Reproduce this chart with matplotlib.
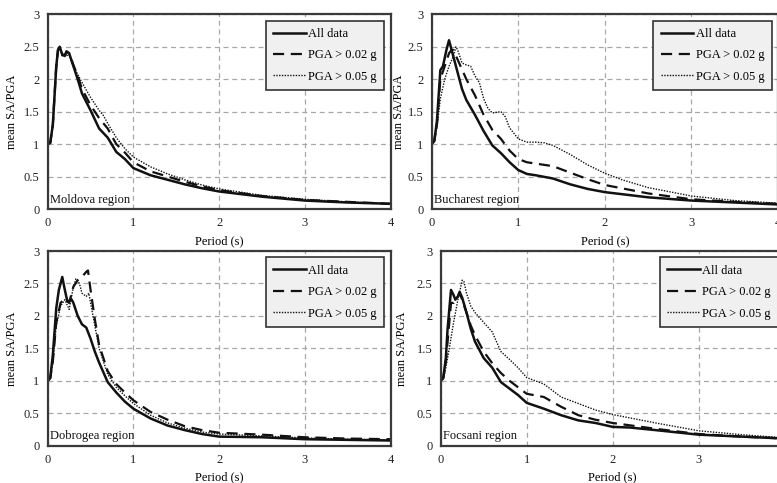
import matplotlib
matplotlib.use("Agg")
import matplotlib.pyplot as plt

plt.rcParams["font.family"] = ["Liberation Serif", "DejaVu Serif"]
plt.rcParams["font.size"] = 9

# ---- data (period in s, mean SA/PGA) ----
# Moldova region
mol_all_t = [0, 0.03, 0.06, 0.1, 0.12, 0.14, 0.17, 0.2, 0.22, 0.25, 0.3, 0.35, 0.4, 0.5, 0.6, 0.7, 0.8, 0.9, 1.0, 1.2, 1.4, 1.6, 1.8, 2.0, 2.5, 3.0, 3.5, 4.0]
mol_all_v = [1.0, 1.02, 1.3, 2.2, 2.45, 2.5, 2.38, 2.37, 2.43, 2.4, 2.2, 2.0, 1.78, 1.52, 1.24, 1.1, 0.88, 0.77, 0.63, 0.52, 0.45, 0.38, 0.32, 0.27, 0.19, 0.13, 0.1, 0.08]
mol_02_t = [0, 0.03, 0.06, 0.1, 0.12, 0.14, 0.17, 0.2, 0.22, 0.25, 0.3, 0.35, 0.4, 0.5, 0.6, 0.7, 0.8, 0.9, 1.0, 1.2, 1.4, 1.6, 1.8, 2.0, 2.5, 3.0, 3.5, 4.0]
mol_02_v = [1.0, 1.02, 1.3, 2.2, 2.45, 2.49, 2.37, 2.36, 2.42, 2.4, 2.22, 2.05, 1.85, 1.6, 1.4, 1.24, 1.0, 0.87, 0.72, 0.58, 0.5, 0.42, 0.35, 0.29, 0.2, 0.14, 0.11, 0.08]
mol_05_t = [0, 0.03, 0.06, 0.1, 0.12, 0.14, 0.17, 0.2, 0.25, 0.3, 0.4, 0.5, 0.6, 0.65, 0.7, 0.8, 0.9, 1.0, 1.2, 1.4, 1.6, 1.8, 2.0, 2.5, 3.0, 3.5, 4.0]
mol_05_v = [1.0, 1.02, 1.28, 2.18, 2.43, 2.48, 2.36, 2.35, 2.38, 2.2, 1.95, 1.72, 1.52, 1.44, 1.32, 1.1, 0.93, 0.8, 0.65, 0.54, 0.45, 0.37, 0.31, 0.21, 0.15, 0.11, 0.08]

# Bucharest region
buc_all_t = [0, 0.03, 0.06, 0.1, 0.13, 0.17, 0.2, 0.25, 0.3, 0.35, 0.4, 0.5, 0.6, 0.7, 0.8, 0.9, 1.0, 1.1, 1.2, 1.4, 1.6, 1.8, 2.0, 2.5, 3.0, 3.5, 4.0]
buc_all_v = [1.0, 1.05, 1.35, 2.14, 2.2, 2.45, 2.6, 2.35, 2.1, 1.85, 1.68, 1.45, 1.2, 0.98, 0.86, 0.72, 0.6, 0.54, 0.52, 0.47, 0.38, 0.31, 0.26, 0.18, 0.13, 0.1, 0.07]
buc_02_t = [0, 0.03, 0.06, 0.1, 0.15, 0.2, 0.23, 0.25, 0.3, 0.35, 0.4, 0.5, 0.6, 0.7, 0.8, 0.9, 1.0, 1.1, 1.2, 1.4, 1.6, 1.8, 2.0, 2.5, 3.0, 3.5, 4.0]
buc_02_v = [1.0, 1.05, 1.3, 2.0, 2.2, 2.4, 2.45, 2.45, 2.3, 2.15, 2.0, 1.75, 1.45, 1.22, 1.08, 0.9, 0.77, 0.72, 0.7, 0.66, 0.56, 0.46, 0.37, 0.24, 0.15, 0.11, 0.08]
buc_05_t = [0, 0.03, 0.06, 0.1, 0.15, 0.2, 0.25, 0.28, 0.3, 0.35, 0.4, 0.45, 0.5, 0.55, 0.6, 0.65, 0.7, 0.8, 0.85, 0.9, 1.0, 1.1, 1.2, 1.3, 1.4, 1.6, 1.8, 2.0, 2.2, 2.5, 3.0, 3.5, 4.0]
buc_05_v = [1.0, 1.04, 1.25, 1.7, 2.0, 2.2, 2.35, 2.5, 2.45, 2.25, 2.22, 2.2, 2.05, 1.95, 1.7, 1.55, 1.48, 1.5, 1.42, 1.25, 1.08, 1.03, 1.03, 1.02, 0.98, 0.84, 0.68, 0.55, 0.45, 0.33, 0.2, 0.13, 0.09]

# Dobrogea region
dob_all_t = [0, 0.03, 0.06, 0.1, 0.13, 0.17, 0.2, 0.23, 0.28, 0.3, 0.35, 0.4, 0.45, 0.5, 0.55, 0.6, 0.7, 0.8, 0.9, 1.0, 1.2, 1.4, 1.6, 1.8, 2.0, 2.5, 3.0, 3.5, 4.0]
dob_all_v = [1.0, 1.05, 1.4, 2.12, 2.4, 2.6, 2.4, 2.22, 2.25, 2.2, 2.0, 1.87, 1.82, 1.65, 1.45, 1.28, 0.98, 0.82, 0.68, 0.57, 0.42, 0.31, 0.24, 0.18, 0.14, 0.13, 0.1, 0.09, 0.08]
dob_02_t = [0, 0.03, 0.06, 0.1, 0.15, 0.2, 0.25, 0.3, 0.35, 0.4, 0.45, 0.47, 0.5, 0.55, 0.6, 0.7, 0.8, 0.9, 1.0, 1.2, 1.4, 1.6, 1.8, 2.0, 2.5, 3.0, 3.5, 4.0]
dob_02_v = [1.0, 1.04, 1.3, 1.9, 2.2, 2.27, 2.2, 2.45, 2.55, 2.6, 2.68, 2.7, 2.4, 1.95, 1.55, 1.15, 0.95, 0.82, 0.7, 0.52, 0.4, 0.3, 0.24, 0.2, 0.17, 0.13, 0.11, 0.1]
dob_05_t = [0, 0.03, 0.06, 0.1, 0.15, 0.2, 0.25, 0.3, 0.33, 0.37, 0.4, 0.45, 0.48, 0.5, 0.55, 0.6, 0.7, 0.8, 0.9, 1.0, 1.2, 1.4, 1.6, 1.8, 2.0, 2.5, 3.0, 3.5, 4.0]
dob_05_v = [1.0, 1.04, 1.28, 1.85, 2.15, 2.25, 2.1, 2.45, 2.57, 2.5, 2.35, 2.3, 2.35, 2.2, 1.85, 1.5, 1.1, 0.9, 0.77, 0.65, 0.47, 0.35, 0.27, 0.21, 0.18, 0.15, 0.12, 0.1, 0.09]

# Focsani region
foc_all_t = [0, 0.03, 0.06, 0.08, 0.12, 0.15, 0.17, 0.2, 0.22, 0.25, 0.3, 0.35, 0.4, 0.5, 0.6, 0.7, 0.8, 0.9, 1.0, 1.2, 1.4, 1.6, 1.8, 2.0, 2.2, 2.5, 3.0, 3.5, 4.0]
foc_all_v = [1.0, 1.05, 1.35, 1.8, 2.4, 2.32, 2.25, 2.3, 2.37, 2.28, 2.05, 1.8, 1.6, 1.35, 1.2, 0.98, 0.88, 0.78, 0.66, 0.57, 0.47, 0.39, 0.35, 0.29, 0.28, 0.24, 0.17, 0.14, 0.11]
foc_02_t = [0, 0.03, 0.06, 0.1, 0.12, 0.15, 0.2, 0.22, 0.25, 0.3, 0.35, 0.4, 0.5, 0.6, 0.7, 0.8, 0.9, 1.0, 1.2, 1.4, 1.6, 1.8, 2.0, 2.5, 3.0, 3.5, 4.0]
foc_02_v = [1.0, 1.04, 1.3, 1.9, 2.2, 2.2, 2.3, 2.35, 2.25, 2.05, 1.85, 1.7, 1.45, 1.27, 1.12, 1.0, 0.9, 0.8, 0.75, 0.6, 0.47, 0.4, 0.35, 0.26, 0.18, 0.14, 0.11]
foc_05_t = [0, 0.03, 0.06, 0.1, 0.15, 0.2, 0.25, 0.27, 0.3, 0.35, 0.4, 0.5, 0.6, 0.7, 0.8, 0.9, 1.0, 1.1, 1.2, 1.4, 1.6, 1.8, 2.0, 2.5, 3.0, 3.5, 4.0]
foc_05_v = [1.0, 1.03, 1.2, 1.5, 1.9, 2.25, 2.55, 2.53, 2.35, 2.15, 2.05, 1.9, 1.75, 1.45, 1.33, 1.2, 1.05, 1.0, 0.95, 0.75, 0.65, 0.55, 0.48, 0.35, 0.23, 0.17, 0.12]

regions = ["Moldova region", "Bucharest region", "Dobrogea region", "Focsani region"]
series = [
    [(mol_all_t, mol_all_v), (mol_02_t, mol_02_v), (mol_05_t, mol_05_v)],
    [(buc_all_t, buc_all_v), (buc_02_t, buc_02_v), (buc_05_t, buc_05_v)],
    [(dob_all_t, dob_all_v), (dob_02_t, dob_02_v), (dob_05_t, dob_05_v)],
    [(foc_all_t, foc_all_v), (foc_02_t, foc_02_v), (foc_05_t, foc_05_v)],
]
labels = ["All data", "PGA > 0.02 g", "PGA > 0.05 g"]
xtick_labels = [["0", "1", "2", "3", "4"]] * 3 + [["0", "1", "2", "3", ""]]

W, H = 777, 483
# panel boxes in pixels: left, right, top, bottom (the picture crops the right-hand panels)
boxes = [(47.7, 390.5, 14.3, 209), (431.7, 778, 14.3, 209),
         (47.7, 390.5, 251, 445.7), (440.7, 784.7, 251, 445.7)]
ylab_x = [-0.087, -0.077, -0.087, -0.0965]
xlab_y = [-0.134, -0.134, -0.133, -0.133]

fig = plt.figure(figsize=(W / 100, H / 100), dpi=100)

for i, (l, r, t, b) in enumerate(boxes):
    ax = fig.add_axes([l / W, 1 - b / H, (r - l) / W, (b - t) / H])
    ax.grid(True, color="#a8a8a8", linestyle=(0, (4, 3)), linewidth=0.9)
    ax.set_axisbelow(True)
    s = series[i]
    ax.plot(s[0][0], s[0][1], color="#111111", lw=1.8, label=labels[0])
    ax.plot(s[1][0], s[1][1], color="#111111", lw=1.6, linestyle=(0, (5, 3)), label=labels[1])
    ax.plot(s[2][0], s[2][1], color="#111111", lw=1.0, linestyle=(0, (1, 1)), label=labels[2])
    ax.set_xlim(0, 4)
    ax.set_ylim(0, 3)
    ax.set_xticks([0, 1, 2, 3, 4])
    ax.set_xticklabels(xtick_labels[i])
    ax.set_yticks([0, 0.5, 1, 1.5, 2, 2.5, 3])
    ax.set_yticklabels(["0", "0.5", "1", "1.5", "2", "2.5", "3"])
    ax.tick_params(length=0, pad=6, labelsize=9, colors="#222222")
    for sp in ax.spines.values():
        sp.set_color("#3a3a3a")
        sp.set_linewidth(1.6)
    ax.set_ylabel("mean SA/PGA", fontsize=9)
    ax.yaxis.set_label_coords(ylab_x[i], 0.5)
    ax.set_xlabel("Period (s)", fontsize=9)
    ax.xaxis.set_label_coords(0.5, xlab_y[i])
    ax.text(0.03, 0.1, regions[i], fontsize=9, color="#111111")
    leg = ax.legend(loc="upper right", fontsize=9, handlelength=2.6,
                    fancybox=False, framealpha=1, borderpad=0.6,
                    labelspacing=0.75, borderaxespad=0.5, handletextpad=0.2)
    leg.get_frame().set_facecolor("#f0f0f0")
    leg.get_frame().set_edgecolor("#333333")
    leg.get_frame().set_linewidth(1.2)

fig.savefig("out.png", dpi=100)
